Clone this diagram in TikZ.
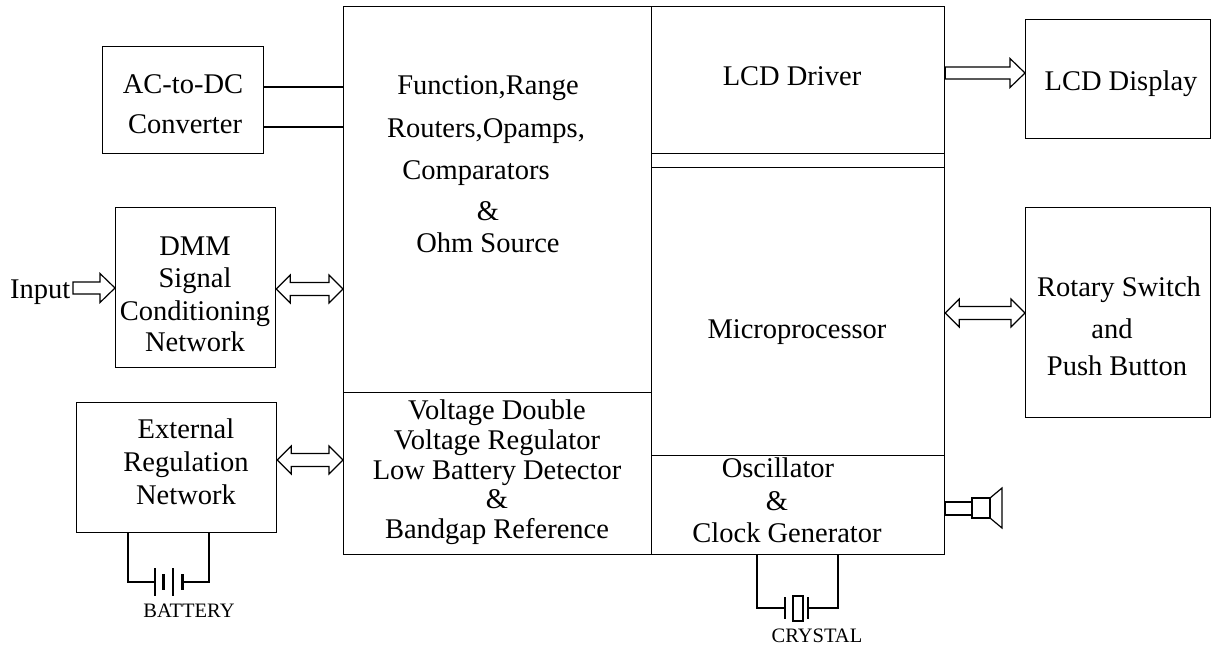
\documentclass[tikz,border=0pt]{standalone}
\usepackage{fontspec}
\setmainfont{Liberation Serif}
\usetikzlibrary{calc}
\newcommand\fbig{\fontsize{28.5}{32}\selectfont}
\newcommand\fsml{\fontsize{20.5}{24}\selectfont}
\newcommand\hollowR[2]{%
 \draw[harrow] let \p1=(#1), \p2=(#2) in
 (\x1,\y1+6pt) -- (\x2-15pt,\y1+6pt) -- (\x2-15pt,\y1+14.5pt) -- (\x2,\y1)
 -- (\x2-15pt,\y1-14.5pt) -- (\x2-15pt,\y1-6pt) -- (\x1,\y1-6pt) -- cycle;}
\newcommand\hollowLR[2]{%
 \draw[harrow] let \p1=(#1), \p2=(#2) in
 (\x1,\y1) -- (\x1+14pt,\y1+14pt) -- (\x1+14pt,\y1+6.5pt) -- (\x2-14pt,\y1+6.5pt)
 -- (\x2-14pt,\y1+14pt) -- (\x2,\y1) -- (\x2-14pt,\y1-14pt) -- (\x2-14pt,\y1-6.5pt)
 -- (\x1+14pt,\y1-6.5pt) -- (\x1+14pt,\y1-14pt) -- cycle;}
\begin{document}
\begin{tikzpicture}[x=1pt,y=-1pt,
 cell/.style={draw, line width=1.2pt, inner sep=0pt, anchor=north west},
 txt/.style={inner sep=0pt, anchor=base, font=\fbig},
 small/.style={inner sep=0pt, anchor=base, font=\fsml},
 wire/.style={line width=1.2pt},
 harrow/.style={draw, line width=1.2pt, fill=white, line join=miter},
 plate/.style={line width=1.2pt},
 heavyplate/.style={line width=3pt}]
\useasboundingbox (0,0) rectangle (1213,649);

% main block cells
\node[cell, minimum width=308pt, minimum height=386pt] (fr)   at (343,6)   {};
\node[cell, minimum width=308pt, minimum height=162pt] (vr)   at (343,392) {};
\node[cell, minimum width=293pt, minimum height=147pt] (lcdd) at (651,6)   {};
\node[cell, minimum width=293pt, minimum height=14pt]  (gap)  at (651,153) {};
\node[cell, minimum width=293pt, minimum height=288pt] (mp)   at (651,167) {};
\node[cell, minimum width=293pt, minimum height=99pt]  (osc)  at (651,455) {};

% side boxes
\node[cell, minimum width=161pt, minimum height=107pt] (ac)  at (102,46)   {};
\node[cell, minimum width=160pt, minimum height=160pt] (dmm) at (115,207)  {};
\node[cell, minimum width=200pt, minimum height=130pt] (ext) at (76,402)   {};
\node[cell, minimum width=185pt, minimum height=119pt] (lcd) at (1025,19)  {};
\node[cell, minimum width=185pt, minimum height=210pt] (rot) at (1025,207) {};

% texts
\node[txt] (t1) at (488,94)  {Function,Range};
\node[txt] (t2) at (486,137) {Routers,Opamps,};
\node[txt] (t3) at (476,179) {Comparators};
\node[txt] (t4) at (488,220) {\&};
\node[txt] (t5) at (488,252) {Ohm Source};
\node[txt] (v1) at (497,419) {Voltage Double};
\node[txt] (v2) at (497,449) {Voltage Regulator};
\node[txt] (v3) at (497,479) {Low Battery Detector};
\node[txt] (v4) at (497,508) {\&};
\node[txt] (v5) at (497,538) {Bandgap Reference};
\node[txt] (l1) at (792,85)  {LCD Driver};
\node[txt] (m1) at (797,338) {Microprocessor};
\node[txt] (o1) at (778,477) {Oscillator};
\node[txt] (o2) at (777,510) {\&};
\node[txt] (o3) at (787,542) {Clock Generator};
\node[txt] (a1) at (183,93)  {AC-to-DC};
\node[txt] (a2) at (185,133) {Converter};
\node[txt] (d1) at (195,255) {DMM};
\node[txt] (d2) at (195,287) {Signal};
\node[txt] (d3) at (195,320) {Conditioning};
\node[txt] (d4) at (195,351) {Network};
\node[txt] (e1) at (186,438) {External};
\node[txt] (e2) at (186,471) {Regulation};
\node[txt] (e3) at (186,504) {Network};
\node[txt] (ld) at (1121,90) {LCD Display};
\node[txt] (r1) at (1119,296) {Rotary Switch};
\node[txt] (r2) at (1112,338) {and};
\node[txt] (r3) at (1117,375) {Push Button};
\node[txt, anchor=base west] (inp) at (10,298) {Input};
\node[small] (bat) at (189,617) {BATTERY};
\node[small] (xtl) at (817,642) {CRYSTAL};

% reference coordinates
\coordinate (yA) at (0,87);
\coordinate (yB) at (0,127);
\coordinate (inS) at (73,288);
\coordinate (yD) at (0,289);
\coordinate (yE) at (0,460);
\coordinate (yL) at (0,73);
\coordinate (yR) at (0,313);

% AC wires
\draw[wire] (ac.east |- yA) -- (fr.west |- yA);
\draw[wire] (ac.east |- yB) -- (fr.west |- yB);

% hollow arrows
\hollowR{inS}{dmm.west |- inS}
\hollowLR{dmm.east |- yD}{fr.west |- yD}
\hollowLR{ext.east |- yE}{vr.west |- yE}
\hollowR{lcdd.east |- yL}{lcd.west |- yL}
\hollowLR{mp.east |- yR}{rot.west |- yR}

% battery
\coordinate (bL) at (128,582);
\coordinate (bR) at (209,582);
\coordinate (p1) at (155,582);
\coordinate (p2) at (163,582);
\coordinate (p3) at (173,582);
\coordinate (p4) at (182,582);
\draw[wire] (ext.south -| bL) -- (bL) -- (p1);
\draw[wire] (ext.south -| bR) -- (bR) -- (p4);
\draw[plate] ($(p1)+(0,-14)$) -- ($(p1)+(0,14)$);
\draw[heavyplate] ($(p2)+(0,-8)$) -- ($(p2)+(0,8)$);
\draw[plate] ($(p3)+(0,-14)$) -- ($(p3)+(0,14)$);
\draw[heavyplate] ($(p4)+(0,-8)$) -- ($(p4)+(0,8)$);

% crystal
\coordinate (cL) at (757,608);
\coordinate (cR) at (838,608);
\coordinate (c1) at (785,608);
\coordinate (c2) at (808,608);
\draw[wire] (osc.south -| cL) -- (cL) -- (c1);
\draw[wire] (osc.south -| cR) -- (cR) -- (c2);
\draw[plate] ($(c1)+(0,-11)$) -- ($(c1)+(0,11)$);
\draw[plate] ($(c2)+(0,-11)$) -- ($(c2)+(0,11)$);
\draw[plate] (793,596) rectangle (803,621);

% speaker
\coordinate (sp) at (0,502);
\draw[wire] (osc.east |- sp) rectangle (972,515);
\draw[wire] (972,498) rectangle (990,518);
\draw[wire, line join=miter] (990,498) -- (1002,488) -- (1002,528) -- (990,518);
\end{tikzpicture}
\end{document}
